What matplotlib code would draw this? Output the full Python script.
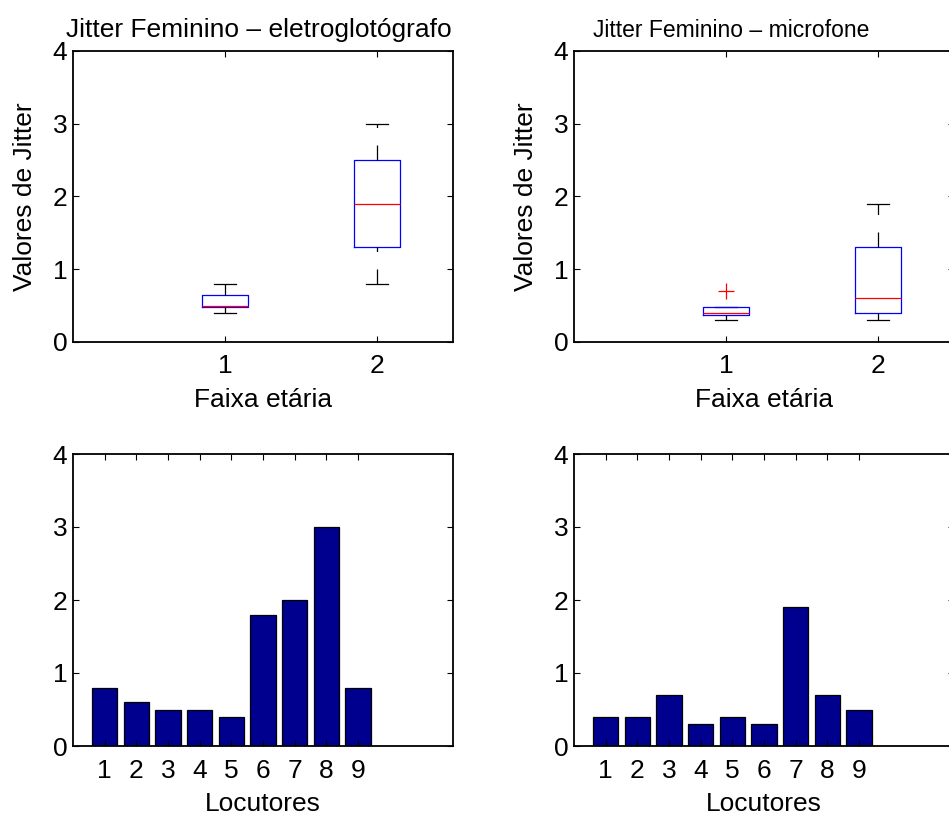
import numpy as np
import matplotlib
matplotlib.use("Agg")
import matplotlib.pyplot as plt

# ===============================
# DATA
# ===============================
locutores = [1, 2, 3, 4, 5, 6, 7, 8, 9]
jitter_egg = [0.8, 0.6, 0.5, 0.5, 0.4, 1.8, 2.0, 3.0, 0.8]
jitter_mic = [0.4, 0.4, 0.7, 0.3, 0.4, 0.3, 1.9, 0.7, 0.5]
faixa = [1, 1, 1, 1, 1, 2, 2, 2, 2]   # faixa etaria de cada locutor
faixa_ticks = [1, 2]

titles = ["Jitter Feminino \u2013 eletroglot\u00f3grafo", "Jitter Feminino \u2013 microfone"]
title_x = [0.49, 0.413]
title_fs = [19, 16.5]

FS = 19
plt.rcParams['font.family'] = ['Liberation Sans', 'DejaVu Sans']
plt.rcParams['font.size'] = FS

BAR_COLOR = '#00008f'


def matlab_stats(vals, label):
    """Boxplot stats like MATLAB (hazen percentiles, 1.5 IQR whiskers)."""
    v = np.asarray(vals, dtype=float)
    q1, med, q3 = np.percentile(v, [25, 50, 75], method='hazen')
    iqr = q3 - q1
    inside = v[(v >= q1 - 1.5 * iqr) & (v <= q3 + 1.5 * iqr)]
    hi = max(inside.max(), q3)
    lo = min(inside.min(), q1)
    fliers = v[(v < q1 - 1.5 * iqr) | (v > q3 + 1.5 * iqr)]
    return dict(med=med, q1=q1, q3=q3, whislo=lo, whishi=hi,
                fliers=fliers, label=label)


def style_axes(ax):
    for s in ax.spines.values():
        s.set_linewidth(1.3)
    ax.tick_params(direction='in', length=4, width=0.8, top=True, right=True,
                   labelsize=FS)
    ax.tick_params(axis='x', pad=9)
    ax.tick_params(axis='y', pad=4)
    ax.set_ylim(0, 4)
    ax.set_yticks([0, 1, 2, 3, 4])


W, H = 949, 816
fig = plt.figure(figsize=(W / 100, H / 100), dpi=100)

lefts = [73, 574]
aw, ah = 380, 291
series = [jitter_egg, jitter_mic]

for i in range(2):
    # ---- boxplot (top row)
    ax = fig.add_axes([lefts[i] / W, (H - 342) / H, aw / W, ah / H])
    data = np.asarray(series[i])
    grp = np.asarray(faixa)
    stats = [matlab_stats(data[grp == g], str(g)) for g in faixa_ticks]
    parts = ax.bxp(stats, positions=faixa_ticks, widths=0.3, capwidths=0.15,
                   boxprops=dict(color='blue', linewidth=0.9),
                   medianprops=dict(color='red', linewidth=0.9),
                   whiskerprops=dict(color='black', linewidth=0.9,
                                     linestyle=(0, (12, 14))),
                   capprops=dict(color='black', linewidth=0.9),
                   flierprops=dict(marker='+', markeredgecolor='red',
                                   markersize=12, markeredgewidth=0.9))
    # MATLAB draws whiskers from the lower value upward
    for w in parts['whiskers'][0::2]:
        x, y = w.get_data()
        w.set_data(x[::-1], y[::-1])
    for c in parts['caps']:
        c.set_zorder(1.5)
    ax.set_xlim(0, 2.5)
    ax.set_xticks(faixa_ticks)
    ax.set_xticklabels([str(t) for t in faixa_ticks])
    style_axes(ax)
    ax.set_xlabel("Faixa et\u00e1ria", labelpad=7)
    ax.set_ylabel("Valores de Jitter", labelpad=11)
    ax.set_title(titles[i], x=title_x[i], pad=10, fontsize=title_fs[i])

    # ---- bar chart (bottom row)
    bx = fig.add_axes([lefts[i] / W, (H - 746) / H, aw / W, 292 / H])
    bx.bar(locutores, series[i], width=0.8, color=BAR_COLOR,
           edgecolor='black', linewidth=0.9)
    bx.set_xlim(0, 12)
    bx.set_xticks(locutores)
    style_axes(bx)
    bx.set_xlabel("Locutores", labelpad=7)

fig.savefig("out.png", dpi=100, facecolor='white')
